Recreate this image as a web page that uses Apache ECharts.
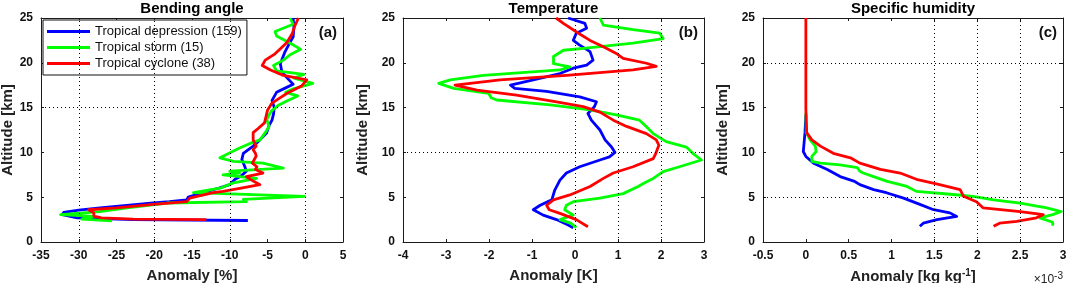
<!DOCTYPE html>
<html><head><meta charset="utf-8">
<script src="https://cdn.jsdelivr.net/npm/echarts@6/dist/echarts.min.js"></script>
<style>html,body{margin:0;padding:0;background:#fff}#c{width:1068px;height:283px}</style>
</head><body><div id="c"></div>
<script>
// ---- Data: [anomaly, altitude km] pairs ----
const seriesNames = ['Tropical depression (159)', 'Tropical storm (15)', 'Tropical cyclone (38)'];
const panelTitles = ['Bending angle', 'Temperature', 'Specific humidity'];
const panelTags = ['(a)', '(b)', '(c)'];
const xAxisNames = ['Anomaly [%]', 'Anomaly [K]', 'Anomaly [kg kg{sup|-1}]'];
const xMins = [-35, -4, -0.5];
const xMaxs = [5, 3, 3];
const xSteps = [5, 1, 0.5];
const yTicks = [0, 5, 10, 15, 20, 25];
const gridX = [[-30, -20, -10, 0], [0, 1, 2], [1.5, 2, 2.5]];
const gridY = [[15], [10], [5, 20]];

const baDepression = [[-1.6,25],[-1.5,24],[-1.6,22.9],[-2.2,22],[-2.7,21.2],[-3.3,19.9],[-3.1,19],[-2.5,18.4],[-1.6,17.6],[-2.6,17.2],[-3.8,16.7],[-4.4,15.8],[-4.1,15],[-4.2,14.3],[-4.4,13.6],[-4.8,13],[-5.1,12.2],[-6.0,11.4],[-6.9,10.7],[-8.2,9.9],[-8.4,9.2],[-8.0,8.4],[-7.8,7.9],[-8.6,7.3],[-9.3,7],[-10,6.4],[-11.5,6.0],[-13,5.65],[-15.5,5.0],[-15.7,4.7],[-18,4.5],[-20.5,4.35],[-24,4.05],[-27.2,3.8],[-30,3.55],[-32,3.3],[-32.2,3.05],[-30.2,2.7],[-22.8,2.5],[-7.6,2.4]];
const baStorm = [[-2.0,25],[-1.6,24.3],[-4.0,23.5],[-3.8,23],[-1.8,22.1],[-0.6,21.5],[-2.0,20.9],[-2.9,20.3],[-4.2,19.7],[-3.8,19.1],[-0.2,18.7],[-1.5,18.3],[1.0,17.7],[-1.6,17.1],[-2.6,16.7],[-1.0,16.3],[-2.3,15.8],[-3.5,15.3],[-4.5,14.6],[-5.1,13.7],[-4.8,12.9],[-5.3,12.2],[-6.0,11.4],[-7.3,11.0],[-8.7,10.5],[-11.3,9.4],[-9.5,9.0],[-5.6,8.8],[-2.9,8.25],[-10,7.9],[-8.7,7.7],[-10.9,7.5],[-6.45,7.1],[-9.5,6.6],[-11.3,6.0],[-14.8,5.5],[-0.1,5.1],[-8.2,4.75],[-7.8,4.5],[-18.3,4.35],[-23.6,3.8],[-27.2,3.4],[-32.4,3.05],[-28,2.85],[-29.6,2.55],[-29.8,2.35],[-25.6,2.35]];
const baCyclone = [[-0.9,25],[-1.4,24.1],[-1.7,23.3],[-2.4,22.3],[-3.5,21.4],[-4.0,21.0],[-5.3,20.3],[-5.7,19.7],[-4.6,19.2],[-2.9,18.6],[0.2,18.1],[0.4,17.9],[-0.5,17.4],[-2.4,16.6],[-3.5,16.0],[-4.4,15.5],[-5.0,14.7],[-5.2,14.0],[-5.4,13.3],[-6.2,12.7],[-6.9,12.2],[-6.9,11.4],[-6.5,10.7],[-6.9,10.3],[-6.6,9.9],[-6.5,9.6],[-7.0,8.8],[-6.4,8.4],[-6.6,8.1],[-5.6,7.7],[-7.8,7.3],[-6.9,6.8],[-6.0,6.4],[-8.5,6.0],[-10.9,5.65],[-12.2,5.5],[-15.3,4.9],[-15.7,4.5],[-20.1,4.2],[-25,3.8],[-28.7,3.6],[-28,3.25],[-28,2.9],[-27,2.7],[-22.8,2.55],[-13.1,2.5]];

const tDepression = [[-0.16,25],[0.23,24.4],[0.27,23.85],[0.03,23.3],[-0.04,22.5],[0.1,22],[0.35,21.25],[0.42,20.3],[0.27,19.75],[-0.04,19.4],[-0.35,18.8],[-0.97,18.1],[-1.5,17.5],[-1.4,17.15],[-0.66,16.8],[0.11,16.2],[0.5,15.65],[0.45,15.1],[0.3,14.35],[0.38,13.6],[0.58,12.5],[0.7,11.4],[0.85,10.6],[0.93,10.0],[0.8,9.5],[0.58,9.15],[0.11,8.4],[-0.2,7.7],[-0.35,6.9],[-0.47,5.8],[-0.54,4.7],[-0.81,4.1],[-0.97,3.6],[-0.74,3.0],[-0.43,2.5],[-0.16,1.9],[-0.04,1.6]];
const tStorm = [[0.58,25],[0.66,24.2],[1.35,23.7],[1.97,23.3],[2.05,22.7],[1.35,22.2],[0.2,21.6],[-0.27,21.4],[-0.5,20.7],[-0.5,19.9],[-0.12,19.55],[-0.35,19.2],[-2.13,18.6],[-2.9,18.1],[-3.17,17.7],[-2.82,17.15],[-2.01,16.6],[-1.95,16.1],[-1.82,15.85],[-0.58,15.3],[0.35,14.75],[0.96,14.2],[1.5,13.6],[1.62,13.05],[1.58,12.9],[1.82,12.1],[2.12,11.2],[2.59,10.6],[2.74,9.9],[2.94,9.15],[2.43,8.4],[2.05,7.85],[1.82,7.1],[1.6,6.55],[1.47,6.2],[1.12,5.4],[0.58,4.9],[-0.04,4.5],[-0.2,4.1],[-0.24,3.6],[-0.04,3.0],[-0.24,2.7],[-0.35,2.5],[-0.1,2.1],[0.03,1.6]];
const tCyclone = [[-0.44,25],[-0.27,24.4],[0.08,23.3],[0.35,22.5],[0.66,21.8],[0.96,21.05],[1.12,20.5],[1.66,19.95],[1.89,19.6],[1.35,19.2],[-0.2,18.6],[-1.74,18.1],[-2.79,17.5],[-2.28,16.95],[-1.36,16.4],[-0.43,15.65],[0.19,15.1],[0.58,14.5],[0.89,13.6],[1.2,12.9],[1.66,12.1],[1.89,11.4],[1.95,10.8],[1.88,9.9],[1.82,9.3],[1.35,8.4],[0.89,7.7],[0.66,7.1],[0.35,6.2],[-0.12,5.25],[-0.5,4.7],[-0.66,4.1],[-0.6,3.6],[-0.35,3.2],[0.03,2.5],[0.3,1.7]];

// specific humidity, in units of 1e-3 kg/kg
const qDepression = [[0,14.2],[-0.01,12.2],[-0.03,10.1],[0,9.55],[0.09,8.8],[0.25,8.1],[0.4,7.3],[0.56,6.8],[0.63,6.4],[0.79,5.85],[0.94,5.5],[1.14,4.9],[1.33,4.2],[1.49,3.6],[1.68,3.25],[1.76,2.85],[1.53,2.5],[1.37,2.1],[1.33,1.75]];
const qStorm = [[0,14.4],[0.005,12.2],[0.05,11.4],[0.11,10.7],[0.12,10.1],[0.07,9.55],[0.07,9.0],[0.17,8.8],[0.4,8.6],[0.6,8.3],[0.63,7.9],[0.67,7.7],[0.79,7.3],[0.94,6.8],[1.18,6.2],[1.29,5.65],[1.72,5.3],[1.95,5.1],[2.19,4.7],[2.5,4.35],[2.81,3.8],[2.98,3.4],[2.88,3.05],[2.73,2.7],[2.88,2.2],[2.88,1.8]];
const qCyclone = [[0,25],[0,14.8],[0.01,12.2],[0.07,11.4],[0.17,10.7],[0.32,9.9],[0.52,9.4],[0.63,8.8],[0.87,8.1],[1.1,7.7],[1.29,7.0],[1.56,6.4],[1.8,5.85],[1.84,5.1],[1.99,4.5],[2.07,3.8],[2.5,3.4],[2.77,3.05],[2.69,2.7],[2.46,2.3],[2.26,2.1],[2.19,1.75]];

const panelData = [[baDepression, baStorm, baCyclone],[tDepression, tStorm, tCyclone],[qDepression, qStorm, qCyclone]];
const colors = ['#0000ff', '#00ff00', '#ff0000'];

// ---- Layout ----
const FONT = '"Liberation Sans", Arial, sans-serif';
const grids = [
  {left: 41, top: 18, width: 302, height: 224, outerBoundsMode: 'none', containLabel: false},
  {left: 403, top: 18, width: 301, height: 224, outerBoundsMode: 'none', containLabel: false},
  {left: 763, top: 18, width: 300, height: 224, outerBoundsMode: 'none', containLabel: false}
];
const yNameGaps = [24, 33, 33];
const AX = '#1a1a1a';

const xAxes = [], yAxes = [], series = [], graphics = [];
grids.forEach((g, i) => {
  const common = {gridIndex: i, min: xMins[i], max: xMaxs[i], interval: xSteps[i], splitLine: {show: false},
    axisLine: {show: true, onZero: false, lineStyle: {color: AX, width: 1}}, axisTick: {show: true, inside: true, length: 3, lineStyle: {color: AX}}};
  xAxes.push(Object.assign({}, common, {type: 'value', position: 'bottom',
    axisLabel: {fontFamily: FONT, fontSize: 12, fontWeight: 'bold', color: '#111', margin: 8},
    name: xAxisNames[i], nameLocation: 'middle', nameGap: 26,
    nameTextStyle: {fontFamily: FONT, fontSize: 15, fontWeight: 'bold', color: '#222',
      rich: {sup: {fontFamily: FONT, fontSize: 10, fontWeight: 'bold', color: '#222', padding: [0, 0, 8, 0]}}}}));
  xAxes.push(Object.assign({}, common, {type: 'value', position: 'top', axisLabel: {show: false}}));
  const ycommon = {gridIndex: i, type: 'value', min: yTicks[0], max: yTicks[yTicks.length-1], interval: yTicks[1]-yTicks[0], splitLine: {show: false},
    axisLine: {show: true, onZero: false, lineStyle: {color: AX, width: 1}}, axisTick: {show: true, inside: true, length: 3, lineStyle: {color: AX}}};
  yAxes.push(Object.assign({}, ycommon, {position: 'left',
    axisLabel: {fontFamily: FONT, fontSize: 12, fontWeight: 'bold', color: '#111', margin: 8},
    name: 'Altitude [km]', nameLocation: 'middle', nameRotate: 90, nameGap: yNameGaps[i],
    nameTextStyle: {fontFamily: FONT, fontSize: 15, fontWeight: 'bold', color: '#222'}}));
  yAxes.push(Object.assign({}, ycommon, {position: 'right', axisLabel: {show: false}}));

  // dotted reference grid lines
  series.push({type: 'line', xAxisIndex: 2*i, yAxisIndex: 2*i, data: [], silent: true, z: 1,
    markLine: {silent: true, symbol: 'none', label: {show: false}, animation: false,
      lineStyle: {type: [1, 3], color: '#000', width: 1},
      data: gridX[i].map(v => ({xAxis: v})).concat(gridY[i].map(v => ({yAxis: v})))}});
  panelData[i].forEach((d, k) => {
    series.push({type: 'line', name: seriesNames[k], xAxisIndex: 2*i, yAxisIndex: 2*i, data: d,
      showSymbol: false, symbol: 'none', clip: true, z: 2 + k, animation: false,
      lineStyle: {color: colors[k], width: 2.8, join: 'round'}, itemStyle: {color: colors[k]}});
  });

  graphics.push({type: 'text', x: g.left + g.width/2, y: 1, style: {text: panelTitles[i], font: 'bold 15px ' + FONT, fill: '#000', align: 'center', verticalAlign: 'top'}});
  graphics.push({type: 'text', x: g.left + g.width - 6, y: 25, style: {text: panelTags[i], font: 'bold 15px ' + FONT, fill: '#111', align: 'right', verticalAlign: 'top'}});
});
graphics.push({type: 'text', x: 1063, y: 271, style: {text: '×10{s|-3}', font: '12px ' + FONT, fill: '#222', align: 'right', verticalAlign: 'top',
  rich: {s: {fontSize: 10, fontFamily: FONT, fill: '#222', padding: [0, 0, 7, 0]}}}});

const chart = echarts.init(document.getElementById('c'), null, {renderer: 'canvas'});
chart.setOption({
  animation: false,
  backgroundColor: '#fff',
  grid: grids,
  xAxis: xAxes,
  yAxis: yAxes,
  legend: {data: seriesNames, orient: 'vertical', left: 43, top: 20, padding: [4, 5, 4, 4], itemGap: 1,
    backgroundColor: '#fff', borderColor: '#111', borderWidth: 1, icon: 'rect', itemWidth: 43, itemHeight: 3,
    textStyle: {fontFamily: FONT, fontSize: 13, color: '#111', lineHeight: 15}, selectedMode: false},
  series: series,
  graphic: graphics
});
</script></body></html>
